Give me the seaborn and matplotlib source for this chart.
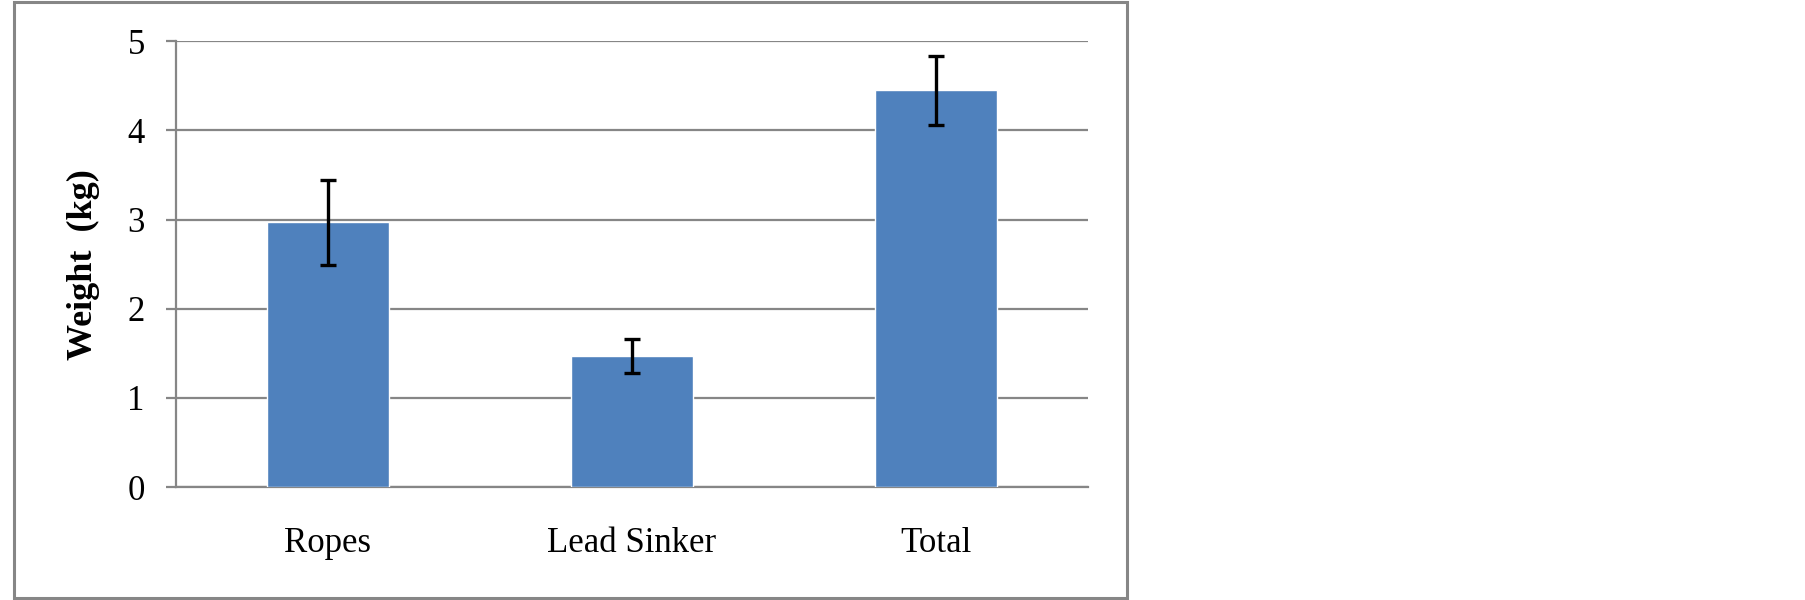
import matplotlib
matplotlib.use("Agg")
import matplotlib.pyplot as plt
import seaborn as sns
import pandas as pd
from matplotlib.patches import Rectangle

# Dados
categorias = ["Ropes", "Lead Sinker", "Total"]
peso_medio = [2.97, 1.47, 4.45]
erro_peso = [0.48, 0.19, 0.39]

df = pd.DataFrame({"Categoria": categorias, "Peso": peso_medio})

sns.set_style("white")
plt.rcParams["font.family"] = ["Liberation Serif", "DejaVu Serif"]

cinza = "#868686"
azul = "#4F81BD"

fig = plt.figure(figsize=(18.05, 6.0), dpi=100)
ax = fig.add_axes([0.0975, 0.1883, 0.5053, 0.7428])

sns.barplot(data=df, x="Categoria", y="Peso", color=azul, saturation=1,
            width=0.4, errorbar=None, ax=ax, zorder=3)
ax.errorbar(ax.get_xticks(), peso_medio, yerr=erro_peso, fmt="none",
            ecolor="black", elinewidth=2.4, capsize=6, capthick=2.4, zorder=4)

ax.set_ylim(0, 5)
ax.set_yticks(range(6))
ax.set_xlim(-0.5, 2.5)
ax.yaxis.grid(True, color=cinza, linewidth=1.6, zorder=0)
ax.set_axisbelow(True)

for lado in ["top", "right"]:
    ax.spines[lado].set_visible(False)
for lado in ["left", "bottom"]:
    ax.spines[lado].set_color(cinza)
    ax.spines[lado].set_linewidth(1.6)

ax.tick_params(axis="y", direction="out", length=7.5, width=1.6, color=cinza,
               labelsize=25, pad=15, left=True, labelcolor="black")
ax.tick_params(axis="x", length=0, labelsize=25, pad=29, labelcolor="black")

ax.set_xlabel("")
ax.set_ylabel("Weight  (kg)", fontsize=26, fontweight="bold", color="black")
ax.yaxis.set_label_coords(-0.083, 0.5)

# Moldura do gráfico
moldura = Rectangle((0.0078, 0.0035), 0.6166, 0.993, transform=fig.transFigure,
                    fill=False, edgecolor=cinza, linewidth=2.2)
fig.patches.append(moldura)

fig.savefig("out.png", dpi=100, facecolor="white")
plt.close(fig)
